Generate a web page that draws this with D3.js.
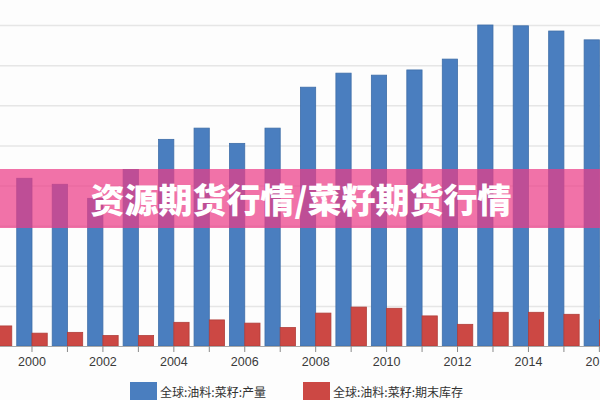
<!DOCTYPE html>
<html>
<head>
<meta charset="utf-8">
<script src="https://cdn.jsdelivr.net/npm/d3@7"></script>
<style>
  html, body { margin: 0; padding: 0; background: #fff; }
  svg { display: block; }
</style>
</head>
<body>
<div id="chart"></div>
<script>
// Years on the category axis (1999 and 2016 are cut by the picture edges)
const years = [1999, 2000, 2001, 2002, 2003, 2004, 2005, 2006, 2007, 2008,
               2009, 2010, 2011, 2012, 2013, 2014, 2015, 2016];
// 全球:油料:菜籽:产量
const production = [42.0, 41.8, 40.3, 36.8, 44.0, 51.5, 54.3, 50.5, 54.3, 64.5,
                    68.0, 67.5, 68.8, 71.5, 80.0, 79.8, 78.5, 76.3];
// 全球:油料:菜籽:期末库存
const stocks = [5.0, 3.2, 3.4, 2.6, 2.6, 5.9, 6.5, 5.7, 4.6, 8.2,
                9.7, 9.4, 7.5, 5.4, 8.4, 8.4, 7.9, 6.5];
const seriesNames = ['全球:油料:菜籽:产量', '全球:油料:菜籽:期末库存'];
const gridValues = [0, 10, 20, 30, 40, 50, 60, 70, 80];
const bannerText = '资源期货行情/菜籽期货行情';

const width = 600, height = 400;
const colors = ['#4a7ebf', '#cc4844'];
const strokes = ['#3f6ea8', '#b03e3a'];

const svg = d3.select('#chart')
    .append('svg')
    .attr('width', width)
    .attr('height', height);

svg.append('rect').attr('width', width).attr('height', height).attr('fill', '#fdfdfd');

// scales
const x0 = d3.scaleBand()
    .domain(years)
    .range([-21.2, 617.1])
    .paddingInner(0.14)
    .paddingOuter(0.07);

const x1 = d3.scaleBand()
    .domain([0, 1])
    .range([0, x0.bandwidth()]);

const y = d3.scaleLinear()
    .domain([0, 80])
    .range([346, 25]);

// gridlines
svg.append('g')
    .selectAll('line')
    .data(gridValues.slice(1))
    .enter()
    .append('line')
    .attr('x1', 0)
    .attr('x2', width)
    .attr('y1', d => y(d) + 0.5)
    .attr('y2', d => y(d) + 0.5)
    .attr('stroke', '#e6e6e6')
    .attr('stroke-width', 1.5);

// bars
const rows = years.map((yr, i) => ({ year: yr, values: [production[i], stocks[i]] }));

const group = svg.append('g')
    .selectAll('g')
    .data(rows)
    .enter()
    .append('g')
    .attr('transform', d => `translate(${x0(d.year)},0)`);

group.selectAll('rect')
    .data(d => d.values.map((v, k) => ({ k: k, v: v })))
    .enter()
    .append('rect')
    .attr('x', d => x1(d.k))
    .attr('y', d => y(d.v))
    .attr('width', x1.bandwidth())
    .attr('height', d => y(0) - y(d.v))
    .attr('fill', d => colors[d.k])
    .attr('stroke', d => strokes[d.k])
    .attr('stroke-width', 0.8);

// x axis: ticks at every year, labels every other year
const xAxis = d3.axisBottom(x0)
    .tickValues(years)
    .tickSize(6)
    .tickPadding(5)
    .tickFormat(d => d % 2 === 0 ? d : '');

const axisG = svg.append('g')
    .attr('transform', `translate(0,${y(0)})`)
    .call(xAxis);

axisG.select('.domain')
    .attr('d', `M0,0.5H${width}`)
    .attr('stroke', '#a8a8a8');
axisG.selectAll('.tick line').attr('stroke', '#8a8a8a');
axisG.selectAll('.tick text')
    .attr('fill', '#3a3a3a')
    .style('font-family', '"Liberation Sans", Arial, sans-serif')
    .style('font-size', '12.5px');

// legend
const legend = svg.append('g');
const legendX = [130, 303];
seriesNames.forEach((name, k) => {
    legend.append('rect')
        .attr('x', legendX[k])
        .attr('y', 382)
        .attr('width', 27)
        .attr('height', 26)
        .attr('fill', colors[k]);
    legend.append('text')
        .attr('x', legendX[k] + 30)
        .attr('y', 397)
        .attr('fill', '#333')
        .style('font-family', '"Noto Sans CJK SC", sans-serif')
        .style('font-size', '12px')
        .text(name);
});

// pink banner across the middle
svg.append('rect')
    .attr('x', 0)
    .attr('y', 169)
    .attr('width', width)
    .attr('height', 59)
    .attr('fill', 'rgb(236,60,135)')
    .attr('fill-opacity', 0.72);

svg.append('text')
    .attr('x', 301)
    .attr('y', 213)
    .attr('text-anchor', 'middle')
    .attr('fill', '#fff')
    .style('font-family', '"Noto Sans CJK SC", sans-serif')
    .style('font-weight', '900')
    .style('font-size', '34px')
    .text(bannerText);
</script>
</body>
</html>
